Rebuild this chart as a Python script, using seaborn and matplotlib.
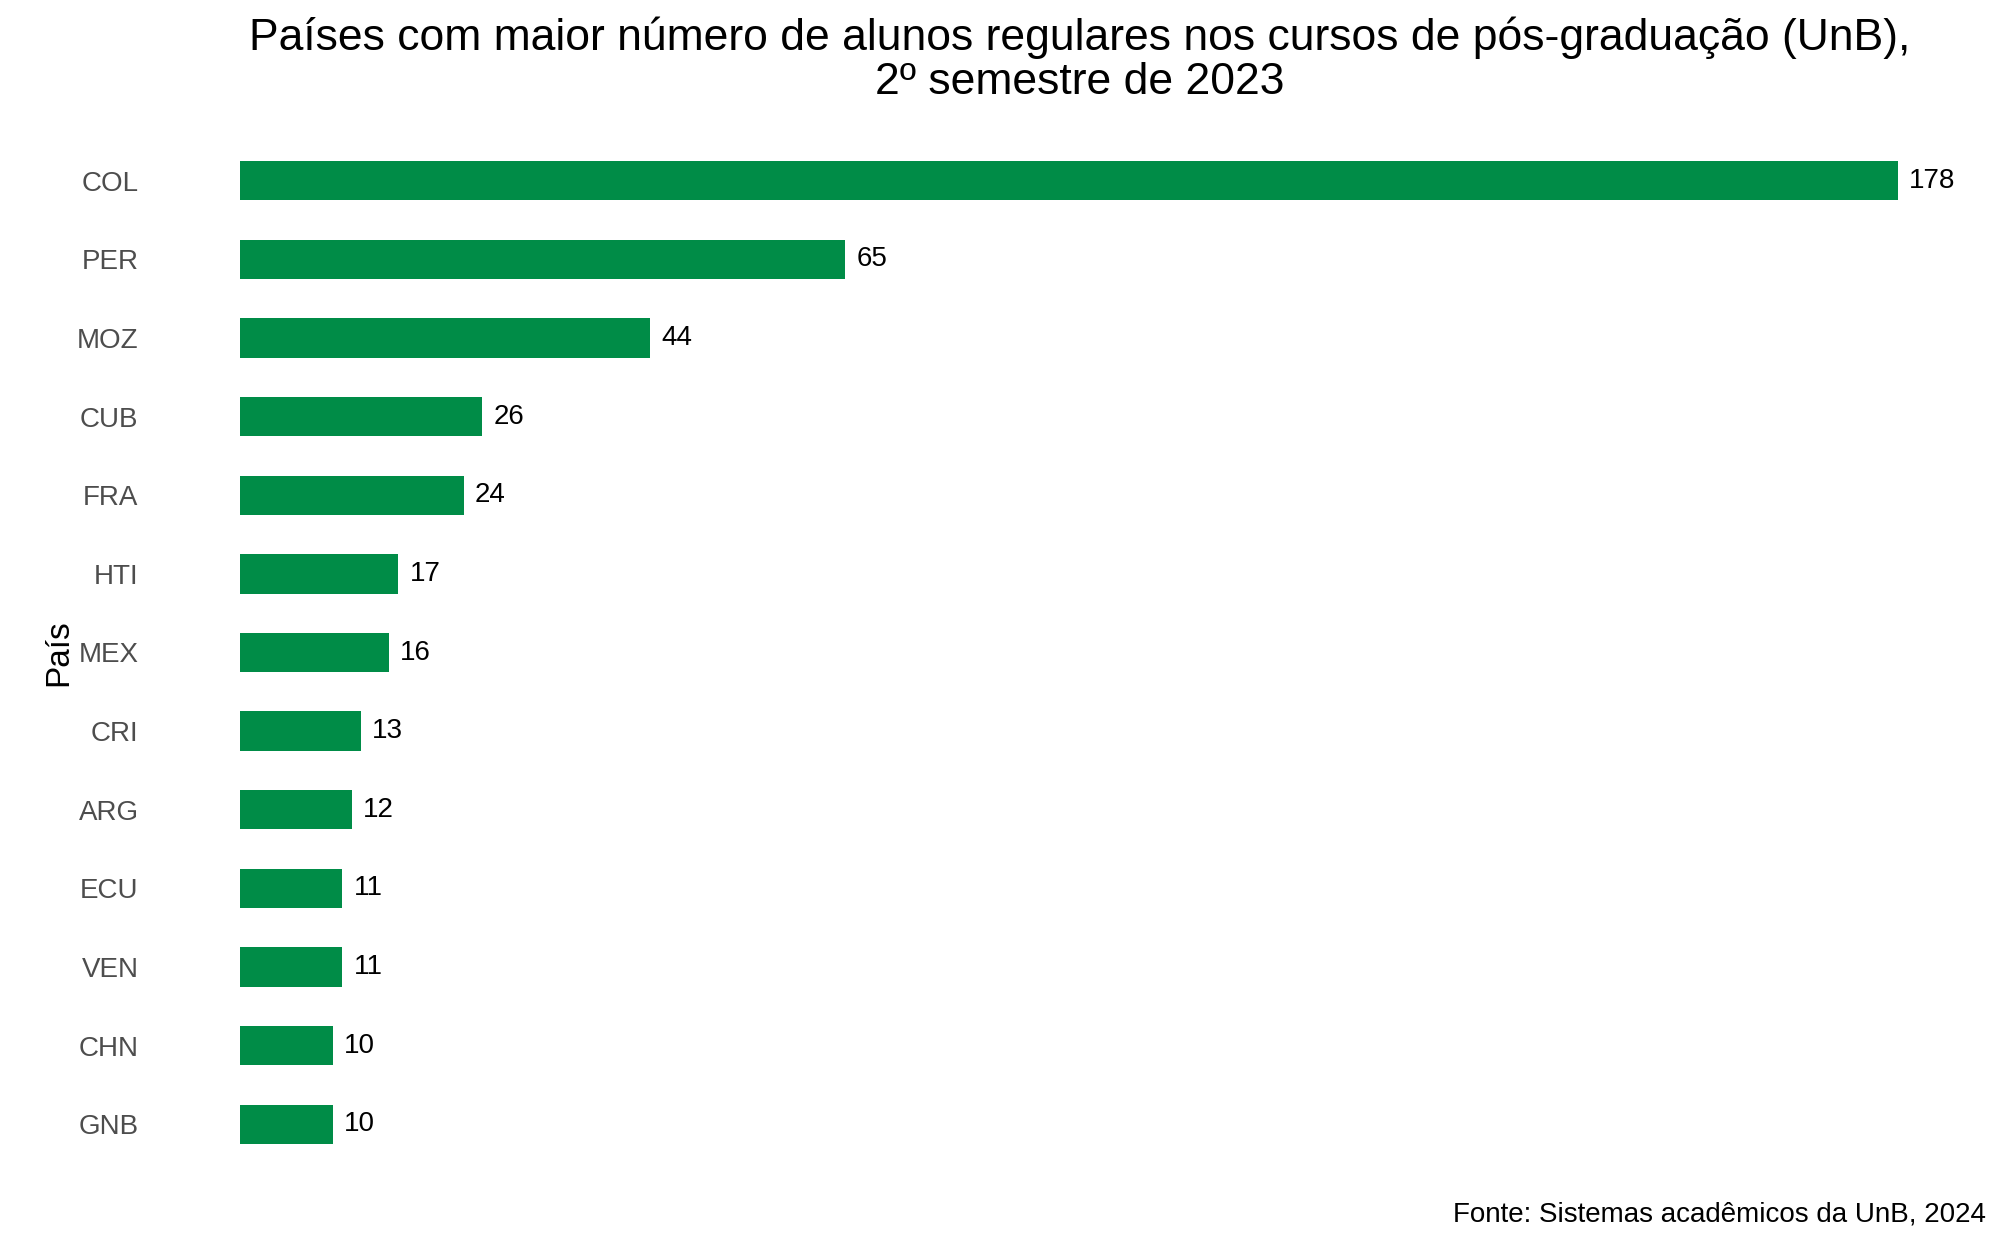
import matplotlib
matplotlib.use("Agg")
import matplotlib.pyplot as plt
import seaborn as sns
import pandas as pd

countries = ["COL","PER","MOZ","CUB","FRA","HTI","MEX","CRI","ARG","ECU","VEN","CHN","GNB"]
values = [178,65,44,26,24,17,16,13,12,11,11,10,10]
df = pd.DataFrame({"País": countries, "n": values})

plt.rcParams["font.family"] = "Liberation Sans"
fig = plt.figure(figsize=(20, 12.5), dpi=100)
ax = fig.add_axes([0.12, 0.069, 0.829, 0.818])
sns.barplot(data=df, x="n", y="País", color="#008C47", width=0.5, saturation=1, ax=ax, order=countries)
for i, v in enumerate(values):
    ax.text(v + 1.2, i, str(v), va="center", ha="left", fontsize=20, color="black")
ax.set_xlim(0, 178)
ax.set_ylim(12.5, -0.5)
ax.set_xlabel("")
ax.set_ylabel("País", fontsize=24)
ax.yaxis.set_label_coords(-0.1, 0.5)
ax.set_xticks([])
ax.tick_params(axis="y", length=0, labelsize=20, labelcolor="#4d4d4d", pad=73)
for s in ax.spines.values():
    s.set_visible(False)
fig.suptitle("Países com maior número de alunos regulares nos cursos de pós-graduação (UnB),\n2º semestre de 2023",
             x=0.54, y=0.987, fontsize=32, linespacing=1.1)
fig.text(0.993, 0.018, "Fonte: Sistemas acadêmicos da UnB, 2024", ha="right", va="bottom", fontsize=20)
fig.savefig("out.png", dpi=100)
